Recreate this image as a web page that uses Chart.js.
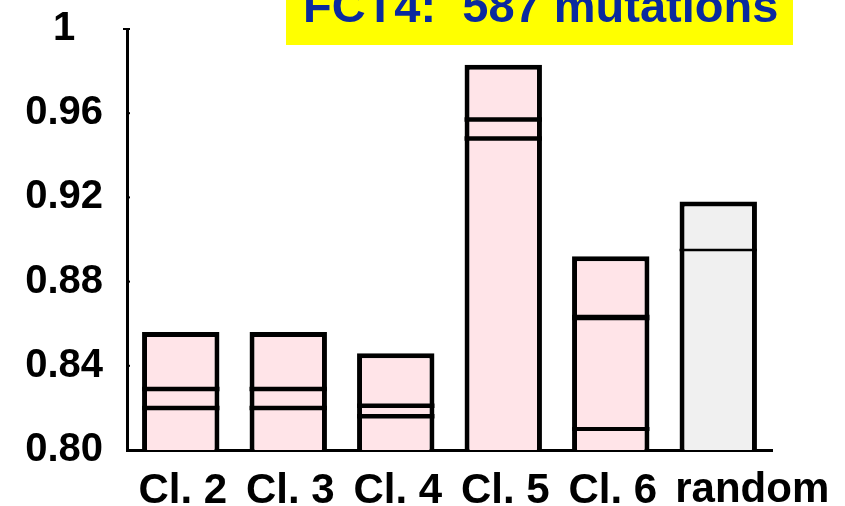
<!DOCTYPE html>
<html>
<head>
<meta charset="utf-8">
<script src="https://cdn.jsdelivr.net/npm/chart.js@4"></script>
<style>
  html, body { margin: 0; padding: 0; background: #ffffff; }
  #wrap { width: 845px; height: 506px; }
</style>
</head>
<body>
<div id="wrap"><canvas id="c" width="845" height="506"></canvas></div>
<script>
// ---- data ----
const categories = ['Cl. 2', 'Cl. 3', 'Cl. 4', 'Cl. 5', 'Cl. 6', 'random'];
const barTop     = [0.856, 0.856, 0.846, 0.983, 0.892, 0.918];
const upperLine  = [0.829, 0.829, 0.821, 0.957, 0.863, 0.895];
const lowerLine  = [0.820, 0.820, 0.816, 0.948, 0.810, null];
const yTickValues = [0.80, 0.84, 0.88, 0.92, 0.96, 1.00];
const yTickLabels = ['0.80', '0.84', '0.88', '0.92', '0.96', '1'];
const titleText = 'FCT4:  587 mutations';

// ---- styles ----
const FONT = '"Liberation Sans", Arial, Helvetica, sans-serif';
const barFill = ['#ffe4e8', '#ffe4e8', '#ffe4e8', '#ffe4e8', '#ffe4e8', '#f0f0f0'];
const upperWidth = [4.5, 4.5, 4.5, 4.5, 5.5, 2.5];
const lowerWidth = [4.5, 4.5, 4.5, 4.5, 4, 0];
const lastIdx = categories.length - 1;

const innerLines = {
  id: 'innerLines',
  afterDatasetsDraw(chart) {
    const ctx = chart.ctx;
    const y = chart.scales.y;
    const meta = chart.getDatasetMeta(0);
    ctx.save();
    ctx.strokeStyle = '#000';
    meta.data.forEach((bar, i) => {
      const half = bar.width / 2;
      [[upperLine[i], upperWidth[i]], [lowerLine[i], lowerWidth[i]]].forEach(([v, w]) => {
        if (v == null || !w) return;
        const py = y.getPixelForValue(v);
        ctx.lineWidth = w;
        ctx.beginPath();
        ctx.moveTo(bar.x - half, py);
        ctx.lineTo(bar.x + half, py);
        ctx.stroke();
      });
    });
    // small inner tick marks on the y axis
    ctx.lineWidth = 2;
    const x0 = chart.chartArea.left;
    yTickValues.forEach((v, i) => {
      const py = y.getPixelForValue(v);
      ctx.beginPath();
      ctx.moveTo(i === yTickValues.length - 1 ? x0 - 4 : x0, py);
      ctx.lineTo(x0 + 3, py);
      ctx.stroke();
    });
    ctx.restore();
  }
};

const titleBox = {
  id: 'titleBox',
  afterDraw(chart) {
    const ctx = chart.ctx;
    ctx.save();
    ctx.fillStyle = '#ffff00';
    ctx.fillRect(286, 0, 507, 45);
    ctx.fillStyle = '#0a2a9e';
    ctx.font = 'bold 47px ' + FONT;
    ctx.textBaseline = 'alphabetic';
    ctx.textAlign = 'left';
    ctx.fillText(titleText, 303, 22);
    ctx.restore();
  }
};

const tickFont = { family: FONT, size: 42, weight: 'bold' };

new Chart(document.getElementById('c'), {
  type: 'bar',
  data: {
    labels: categories,
    datasets: [{
      data: barTop,
      backgroundColor: barFill,
      borderColor: '#000000',
      borderWidth: 5,
      borderSkipped: false,
      barPercentage: 0.72,
      categoryPercentage: 1.0
    }]
  },
  options: {
    responsive: false,
    animation: false,
    events: [],
    layout: { padding: { left: 0, right: 73, top: 29, bottom: 0 } },
    plugins: {
      legend: { display: false },
      title: { display: false },
      tooltip: { enabled: false }
    },
    scales: {
      x: {
        weight: 0,
        grid: { display: false, drawTicks: false },
        border: { display: true, color: '#000', width: 3 },
        ticks: {
          color: '#000',
          font: tickFont,
          padding: 16,
          labelOffset: 2,
          maxRotation: 0,
          autoSkip: false,
          callback: (v, i) => (i === lastIdx ? '' : categories[i])
        },
        afterFit(scale) { scale.height = 56; scale.paddingLeft = 0; scale.paddingRight = 0; }
      },
      x2: {
        type: 'category',
        labels: categories,
        position: 'bottom',
        weight: 1,
        grid: { display: false, drawTicks: false },
        border: { display: false },
        ticks: {
          color: '#000',
          font: tickFont,
          mirror: true,
          padding: -10,
          labelOffset: 34,
          maxRotation: 0,
          autoSkip: false,
          callback: (v, i) => (i === lastIdx ? categories[i] : '')
        },
        afterFit(scale) { scale.height = 0; scale.paddingLeft = 0; scale.paddingRight = 0; }
      },
      y: {
        min: 0.8,
        max: 1.0,
        afterBuildTicks(scale) { scale.ticks = yTickValues.map(v => ({ value: v })); },
        grid: { display: false, drawTicks: false },
        border: { display: true, color: '#000', width: 3 },
        ticks: {
          color: '#000',
          font: { family: FONT, size: 40, weight: 'bold' },
          crossAlign: 'center',
          padding: 24,
          callback: (v, i) => yTickLabels[i]
        },
        afterFit(scale) { scale.width = 127; scale.paddingTop = 0; scale.paddingBottom = 0; }
      }
    }
  },
  plugins: [innerLines, titleBox]
});
</script>
</body>
</html>
